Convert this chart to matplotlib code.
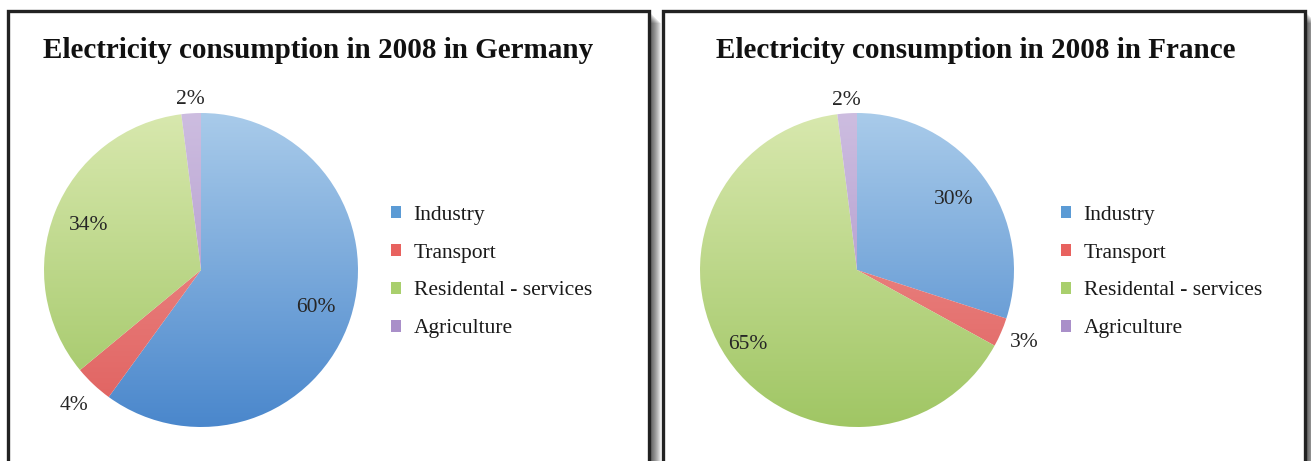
import matplotlib

matplotlib.use("Agg")

import matplotlib.pyplot as plt  # noqa: E402
import numpy as np  # noqa: E402
from matplotlib.colors import LinearSegmentedColormap  # noqa: E402
from matplotlib.patches import Patch, Rectangle  # noqa: E402

# ---------------------------------------------------------------------------
# Data
# ---------------------------------------------------------------------------

categories = ["Industry", "Transport", "Residental - services", "Agriculture"]
germany_values = [60, 4, 34, 2]
france_values = [30, 3, 65, 2]
titles = ["Electricity consumption in 2008 in Germany",
          "Electricity consumption in 2008 in France"]

# (top colour, bottom colour) gradient per slice
_GRADIENTS = [
    ("#a9cbea", "#4a87cc"),  # blue
    ("#f09a98", "#e0605e"),  # red
    ("#d8e8ae", "#a0c664"),  # green
    ("#cdbde0", "#a68bc4"),  # purple
]
_LEGEND_COLORS = ["#5b9bd5", "#e8625f", "#a9cf6d", "#a98fc9"]

_W, _H = 1311, 461
_SERIF = ["Liberation Serif", "DejaVu Serif"]

# per-slice label distance (fraction of radius); small slices sit outside
_LABEL_DIST = {
    "Germany": [0.77, 1.18, 0.77, 1.09],
    "France": [0.76, 1.16, 0.84, 1.08],
}


def _fx(px):
    return px / _W


def _fy(py):
    return 1 - py / _H


def _panel(fig, x0, x1, y0):
    # soft drop shadow, right and below
    for i in range(12):
        off = i + 1
        fig.patches.append(Rectangle((_fx(x0 + off), _fy(_H + 20)),
                                     _fx(x1 - x0), _fy(y0 + off) - _fy(_H + 20),
                                     transform=fig.transFigure,
                                     facecolor="black", alpha=0.08,
                                     edgecolor="none", zorder=-3))
    fig.patches.append(Rectangle((_fx(x0), _fy(_H + 20)),
                                 _fx(x1 - x0), _fy(y0) - _fy(_H + 20),
                                 transform=fig.transFigure,
                                 facecolor="white", edgecolor="#222222",
                                 linewidth=2.4, zorder=-2))


def _pie(fig, key, values, cx, cy, r, title, title_x, legend_x):
    ax = fig.add_axes([_fx(cx - r), _fy(cy + r), _fx(2 * r), _fy(cy - r) - _fy(cy + r)])
    ax.set_zorder(1)
    ax.patch.set_visible(False)
    wedges, _ = ax.pie(values, startangle=90, counterclock=False, radius=1,
                       wedgeprops=dict(facecolor="none", edgecolor="none"))
    grad = np.linspace(1, 0, 256).reshape(-1, 1)
    for w, (top, bot) in zip(wedges, _GRADIENTS):
        cmap = LinearSegmentedColormap.from_list("g", [bot, top])
        im = ax.imshow(grad, extent=[-1, 1, -1, 1], cmap=cmap, aspect="auto",
                       interpolation="bilinear", zorder=1)
        im.set_clip_path(w)
    ax.set_xlim(-1, 1)
    ax.set_ylim(-1, 1)
    ax.set_aspect("equal")
    ax.axis("off")

    total = float(sum(values))
    for w, v, d in zip(wedges, values, _LABEL_DIST[key]):
        mid = np.deg2rad((w.theta1 + w.theta2) / 2)
        ax.text(d * np.cos(mid), d * np.sin(mid), f"{v / total * 100:.0f}%",
                ha="center", va="center", fontsize=15.5, color="#262626",
                family=_SERIF, zorder=3, clip_on=False)

    fig.text(_fx(title_x), _fy(58), title, ha="center", va="baseline",
             fontsize=21, fontweight="bold", family=_SERIF, color="#111111")

    handles = [Patch(facecolor=c, edgecolor="none") for c in _LEGEND_COLORS]
    fig.legend(handles, categories, loc="center left",
               bbox_to_anchor=(_fx(legend_x), _fy(272)), frameon=False,
               handlelength=0.45, handleheight=0.45, handletextpad=0.6,
               labelspacing=0.88, borderpad=0, borderaxespad=0,
               prop=dict(family=_SERIF, size=15.5))
    for t in fig.legends[-1].get_texts():
        t.set_color("#1a1a1a")
    return ax


fig = plt.figure(figsize=(_W / 100, _H / 100), dpi=100)
fig.patch.set_facecolor("white")

_panel(fig, 8, 649, 11)
_panel(fig, 663, 1305, 11)

_pie(fig, "Germany", germany_values, 201, 270, 157, titles[0], 318, 391)
_pie(fig, "France", france_values, 857, 270, 157, titles[1], 976, 1061)

fig.savefig("out.png", dpi=100)
